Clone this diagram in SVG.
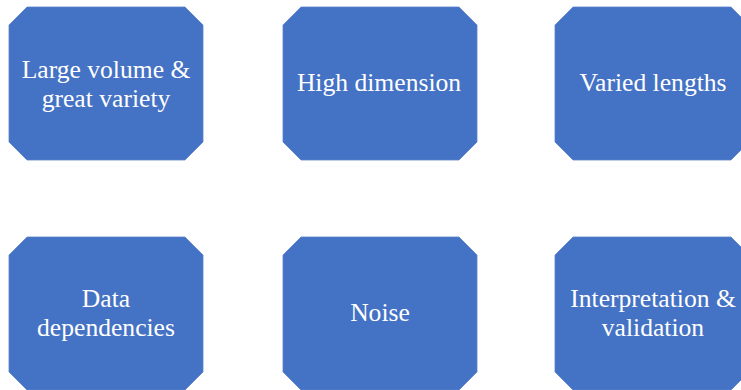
<svg xmlns="http://www.w3.org/2000/svg" width="741" height="390" viewBox="0 0 741 390">
  <defs>
    <!-- octagon shape: 194 x 153 with 18px corner cuts -->
    <polygon id="oct" points="18,0 176,0 194,18 194,135 176,153 18,153 0,135 0,18"/>
  </defs>
  <style>
    .box { fill: #4472C4; stroke: #5b82c9; stroke-width: 0.8; }
    .lbl { fill: #ffffff; font-family: "Liberation Serif", "Times New Roman", serif; font-size: 25.6px; text-anchor: middle; }
  </style>
  <rect width="741" height="390" fill="#ffffff"/>

  <g id="node-volume">
    <use href="#oct" x="9" y="7" class="box"/>
    <text class="lbl" x="106" y="78">Large volume &amp;</text>
    <text class="lbl" x="106" y="107">great variety</text>
  </g>

  <g id="node-dimension">
    <use href="#oct" x="283" y="7" class="box"/>
    <text class="lbl" x="379" y="91">High dimension</text>
  </g>

  <g id="node-lengths">
    <use href="#oct" x="555" y="7" class="box"/>
    <text class="lbl" x="653" y="91">Varied lengths</text>
  </g>

  <g id="node-dependencies">
    <use href="#oct" x="9" y="237" class="box"/>
    <text class="lbl" x="106" y="307">Data</text>
    <text class="lbl" x="106" y="336">dependencies</text>
  </g>

  <g id="node-noise">
    <use href="#oct" x="283" y="237" class="box"/>
    <text class="lbl" x="380" y="321">Noise</text>
  </g>

  <g id="node-interpretation">
    <use href="#oct" x="555" y="237" class="box"/>
    <text class="lbl" x="653" y="307">Interpretation &amp;</text>
    <text class="lbl" x="653" y="336">validation</text>
  </g>

  <g id="connectors"/>
</svg>
